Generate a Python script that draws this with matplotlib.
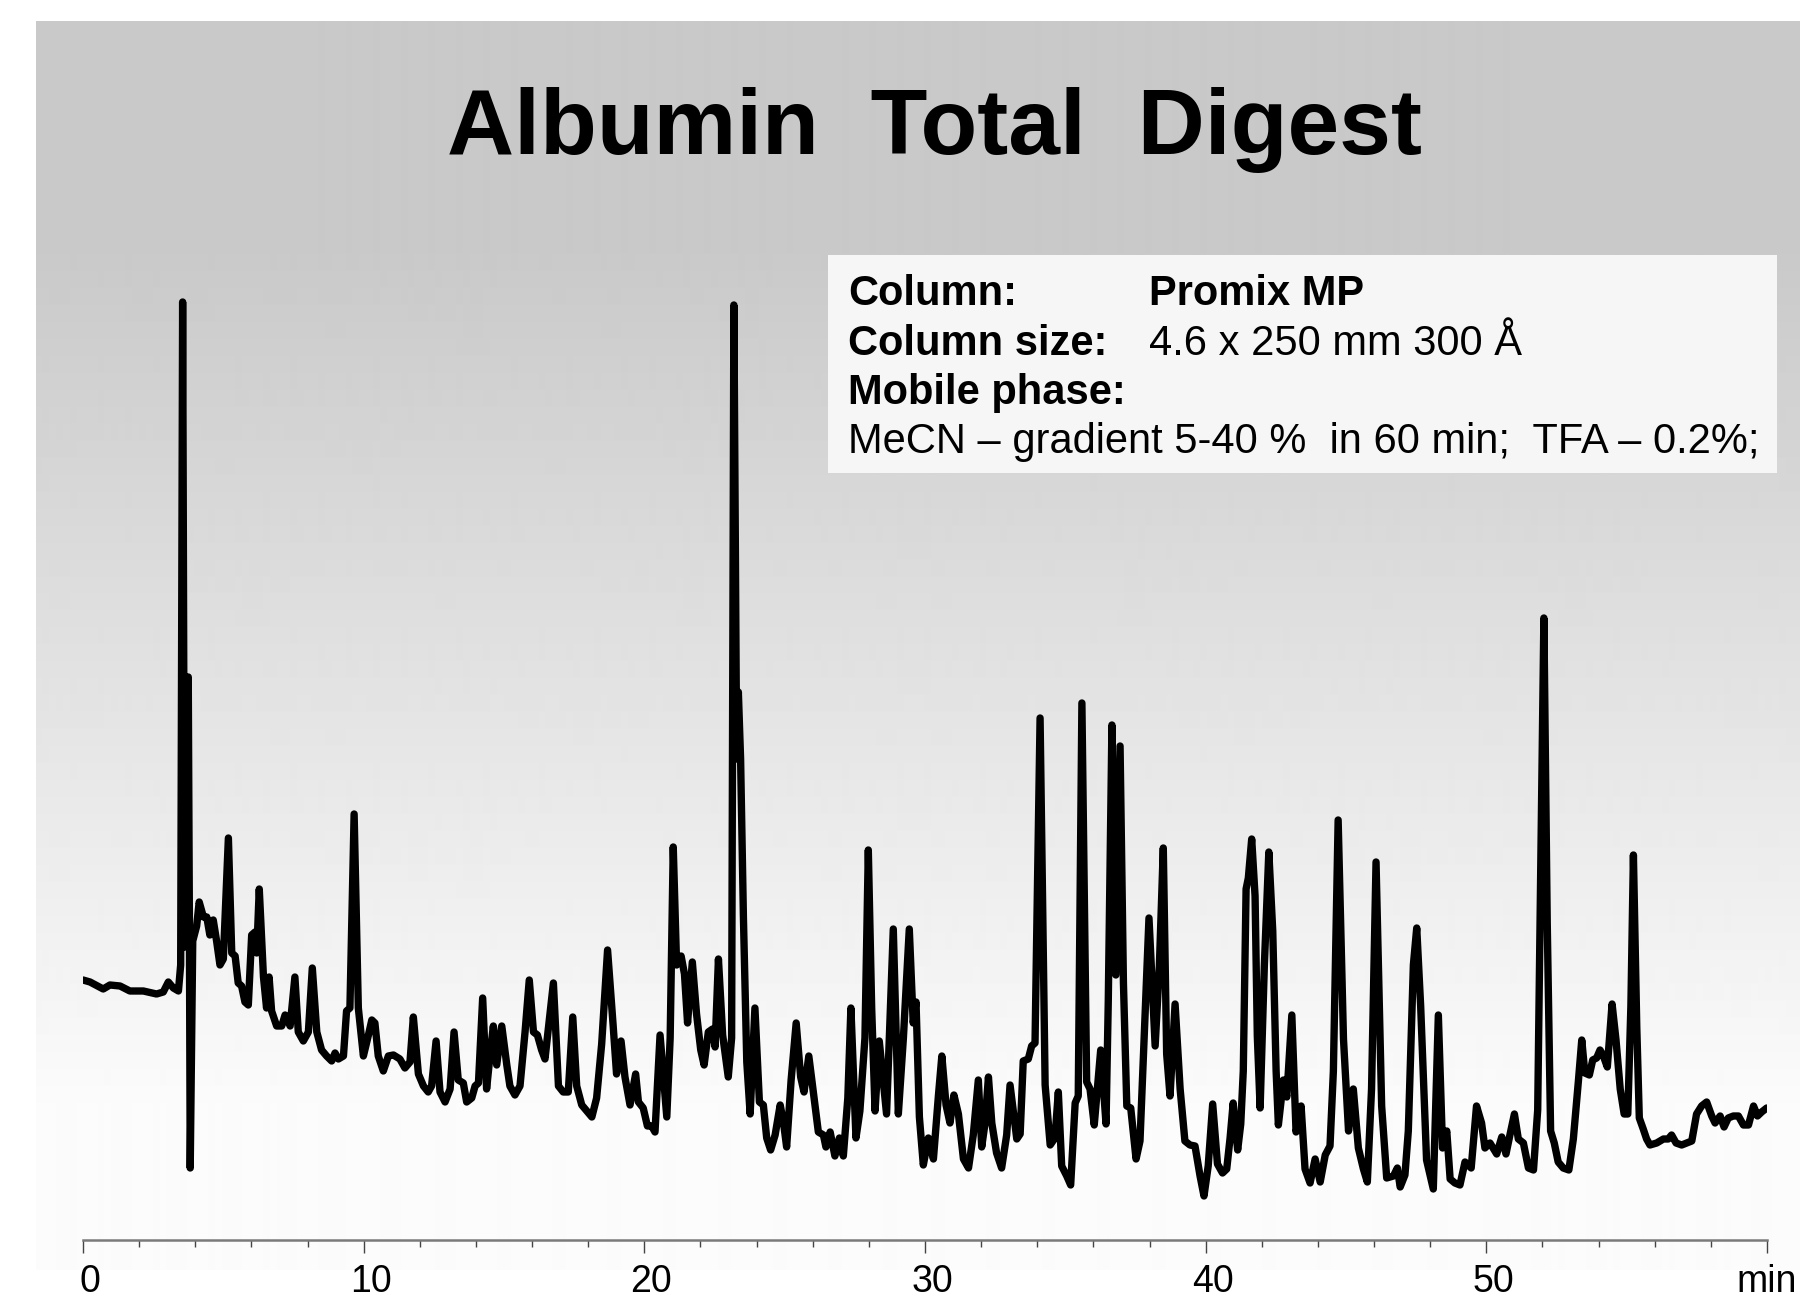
# Albumin total digest chromatogram (Promix MP column)
import numpy as np
import matplotlib.pyplot as plt
from matplotlib.patches import Rectangle
from matplotlib.transforms import ScaledTranslation

plt.rcParams['font.family'] = ['Liberation Sans', 'DejaVu Sans']

# retention time (min) and detector signal (arb. units)
time_early = [0.00, 0.25, 0.72, 0.96, 1.32, 1.67, 2.15, 2.62, 2.86, 3.04, 3.22, 3.40, 3.48, 3.55, 3.62,
              3.75, 3.79, 3.82, 3.91, 4.05, 4.14, 4.29, 4.41, 4.52, 4.64, 4.76, 4.88, 5.00, 5.18, 5.30,
              5.42, 5.53, 5.65, 5.77, 5.89, 6.01, 6.13, 6.19, 6.28, 6.43, 6.54, 6.63, 6.72, 6.90, 7.08,
              7.20, 7.38, 7.55, 7.67, 7.85, 8.03, 8.17, 8.33, 8.50, 8.68, 8.86, 8.98, 9.10, 9.28, 9.39,
              9.51, 9.66, 9.81, 9.99, 10.17, 10.29, 10.40, 10.52, 10.70, 10.88, 11.06, 11.29, 11.47,
              11.65, 11.77, 11.95, 12.13, 12.30, 12.42, 12.58, 12.72, 12.90, 13.08, 13.22, 13.37, 13.55,
              13.67, 13.85, 13.97, 14.09, 14.24, 14.38, 14.50, 14.62, 14.74, 14.92, 15.10, 15.21, 15.39,
              15.57, 15.75, 15.90, 16.05, 16.19, 16.34, 16.46]
signal_early = [26.0, 25.8, 25.1, 25.5, 25.4, 24.9, 24.9, 24.6, 24.8, 25.8, 25.2, 24.9, 27.5, 93.8, 29.3,
                56.3, 32.3, 7.2, 29.9, 31.4, 33.8, 32.3, 32.3, 30.5, 32.0, 29.9, 27.5, 28.1, 40.2, 28.7,
                28.4, 25.7, 25.4, 23.8, 23.5, 30.5, 30.8, 28.7, 35.1, 26.3, 23.2, 26.3, 22.9, 21.4, 21.4,
                22.5, 21.4, 26.3, 20.8, 19.9, 20.8, 27.2, 20.8, 19.0, 18.4, 17.9, 18.7, 18.1, 18.4, 22.9,
                23.2, 42.6, 23.2, 18.4, 20.5, 22.0, 21.7, 18.4, 16.9, 18.4, 18.5, 18.1, 17.2,
                17.8, 22.3, 16.6, 15.4, 14.8, 15.4, 19.9, 14.8, 13.8, 15.1, 20.8, 16.0, 15.7,
                13.8, 14.2, 15.4, 15.7, 24.2, 15.1, 18.4, 21.4, 17.5, 21.4, 17.5, 15.4, 14.5,
                15.4, 20.8, 26.0, 20.8, 20.5, 19.0, 18.1]

time_mid = [16.76, 16.94, 17.11, 17.29, 17.45, 17.59, 17.77, 17.95, 18.13, 18.30, 18.48, 18.69, 18.89,
            19.01, 19.17, 19.31, 19.49, 19.69, 19.79, 19.96, 20.11, 20.26, 20.38, 20.56, 20.80, 20.92,
            21.03, 21.15, 21.31, 21.43, 21.54, 21.71, 21.86, 22.01, 22.13, 22.28, 22.43, 22.52, 22.64,
            22.79, 22.99, 23.11, 23.19, 23.29, 23.35, 23.43, 23.53, 23.65, 23.77, 23.94, 24.10, 24.24,
            24.36, 24.50, 24.66, 24.84, 24.96, 25.07, 25.23, 25.41, 25.57, 25.69, 25.86, 26.02, 26.20,
            26.38, 26.47, 26.62, 26.79, 26.95, 27.09, 27.25, 27.36, 27.54, 27.68, 27.86, 27.98, 28.10,
            28.22, 28.37, 28.52, 28.63, 28.87, 29.05, 29.23, 29.44, 29.58, 29.68, 29.80, 29.94, 30.12,
            30.30, 30.48, 30.60, 30.75, 30.89, 31.03, 31.19, 31.37, 31.55, 31.72, 31.90, 32.02, 32.14,
            32.26, 32.38, 32.55, 32.73, 32.91]
signal_mid = [25.7, 15.4, 14.8, 14.8, 22.3, 15.4, 13.5, 12.9, 12.3, 14.2, 19.6, 29.0, 21.4,
              16.6, 19.9, 16.3, 13.5, 16.6, 13.8, 13.2, 11.4, 11.4, 10.8, 20.5, 12.3, 20.2,
              39.3, 27.5, 28.4, 26.6, 21.7, 27.8, 22.6, 19.0, 17.5, 20.8, 21.1, 19.3, 28.1,
              20.5, 16.3, 20.2, 93.5, 48.1, 54.8, 48.1, 32.3, 17.8, 12.6, 23.2, 13.8, 13.5,
              10.2, 9.0, 10.5, 13.5, 11.7, 9.3, 16.0, 21.7, 16.3, 14.8, 18.4, 14.8, 10.8,
              10.5, 9.3, 10.8, 8.4, 10.2, 8.4, 14.2, 23.2, 10.2, 12.9, 20.2, 39.0, 23.2,
              12.9, 19.9, 15.7, 12.6, 31.1, 12.6, 20.2, 31.1, 21.7, 23.8, 12.3, 7.5, 10.2,
              8.1, 14.5, 18.4, 13.5, 11.7, 14.5, 12.6, 8.1, 7.2, 10.5, 16.0, 9.3, 11.7,
              16.3, 11.7, 8.7, 7.2, 10.5]

time_late = [33.03, 33.27, 33.39, 33.50, 33.68, 33.80, 33.92, 34.10, 34.28, 34.46, 34.63, 34.75, 34.87,
             35.05, 35.19, 35.35, 35.46, 35.59, 35.76, 35.88, 36.03, 36.26, 36.45, 36.53, 36.66, 36.80,
             36.95, 37.07, 37.19, 37.33, 37.52, 37.66, 37.81, 37.98, 38.20, 38.35, 38.49, 38.61, 38.73,
             38.91, 39.09, 39.26, 39.44, 39.62, 39.80, 39.94, 40.09, 40.25, 40.42, 40.60, 40.75, 40.87,
             40.98, 41.14, 41.25, 41.34, 41.44, 41.52, 41.64, 41.76, 41.84, 41.94, 42.09, 42.25, 42.39,
             42.51, 42.59, 42.77, 42.89, 43.07, 43.22, 43.40, 43.54, 43.72, 43.90, 44.08, 44.26, 44.43,
             44.55, 44.72, 44.91, 45.09, 45.26, 45.44, 45.62, 45.76, 45.91, 46.07, 46.27, 46.45, 46.69,
             46.83, 46.93]
signal_late = [15.5, 10.1, 10.6, 17.9, 18.1, 19.4, 19.7, 52.2, 15.5, 9.5, 10.2, 14.8, 7.4,
               6.4, 5.5, 13.7, 14.4, 53.7, 15.8, 15.1, 11.5, 19.0, 11.6, 23.9, 51.5, 26.5,
               49.4, 25.7, 13.4, 13.2, 8.1, 9.9, 20.4, 32.2, 19.4, 27.4, 39.2, 18.6, 14.4,
               23.6, 15.1, 9.9, 9.5, 9.4, 6.4, 4.4, 7.4, 13.6, 7.6, 6.7, 7.1, 10.2,
               13.7, 9.0, 11.6, 16.9, 35.1, 36.2, 40.1, 34.4, 20.4, 13.2, 27.4, 38.8, 30.9,
               16.9, 11.5, 16.0, 14.3, 22.5, 10.8, 13.4, 7.1, 5.7, 8.1, 5.8, 8.5, 9.4,
               16.9, 42.0, 20.1, 10.9, 15.1, 9.2, 7.1, 5.8, 15.1, 37.8, 13.4, 6.2, 6.4,
               7.2, 5.3]

time_tail = [47.10, 47.22, 47.40, 47.52, 47.66, 47.87, 48.11, 48.29, 48.44, 48.59, 48.71, 48.88, 49.06,
             49.24, 49.46, 49.65, 49.83, 49.95, 50.13, 50.37, 50.55, 50.70, 50.84, 51.00, 51.14, 51.32,
             51.50, 51.68, 51.83, 51.95, 52.05, 52.17, 52.29, 52.42, 52.56, 52.74, 52.94, 53.10, 53.28,
             53.40, 53.51, 53.67, 53.79, 53.93, 54.05, 54.17, 54.31, 54.48, 54.62, 54.77, 54.91, 55.04,
             55.15, 55.24, 55.36, 55.45, 55.59, 55.71, 55.83, 56.07, 56.31, 56.48, 56.60, 56.76, 56.96,
             57.14, 57.32, 57.49, 57.67, 57.85, 58.03, 58.15, 58.33, 58.47, 58.62, 58.80, 58.98, 59.16,
             59.34, 59.52, 59.66, 59.81, 59.99]
signal_tail = [6.5, 10.9, 27.5, 31.2, 23.4, 8.0, 5.1, 22.5, 9.2, 10.9, 6.1, 5.7, 5.5,
               7.8, 7.2, 13.4, 11.7, 9.2, 9.7, 8.6, 10.3, 8.6, 10.5, 12.6, 10.1, 9.7,
               7.2, 7.0, 13.0, 40.0, 62.2, 31.7, 10.9, 9.7, 7.8, 7.2, 7.0, 10.1, 15.9,
               20.0, 16.7, 16.5, 18.0, 18.2, 19.0, 18.4, 17.3, 23.6, 20.0, 15.1, 12.6, 12.6,
               23.4, 38.5, 21.3, 12.2, 11.1, 10.1, 9.5, 9.7, 10.1, 10.1, 10.5, 9.7, 9.5,
               9.7, 9.9, 12.6, 13.4, 13.8, 12.4, 11.7, 12.4, 11.3, 12.2, 12.4, 12.4, 11.5,
               11.5, 13.4, 12.4, 12.8, 13.2]

tick_positions = [0, 10, 20, 30, 40, 50, 60]
tick_labels = ['0', '10', '20', '30', '40', '50', 'min']

title = 'Albumin  Total  Digest'
info_labels = ['Column:', 'Column size:', 'Mobile phase:']
info_values = ['Promix MP', '4.6 x 250 mm 300 Å', '']
gradient_note = 'MeCN – gradient 5-40 %  in 60 min;  TFA – 0.2%;'

time = time_early + time_mid + time_late + time_tail
signal = signal_early + signal_mid + signal_late + signal_tail

fig = plt.figure(figsize=(18, 13.08), dpi=100)

# grey panel, flat at the top and fading to white towards the axis
bg = fig.add_axes([0.02, 0.02905, 0.98, 0.95489])
rows = np.arange(21, 1270)
shade = np.clip(201 + (rows - 250) * 0.0587, 201, 252)
bg.imshow(shade[:, None], cmap='gray', vmin=0, vmax=255, aspect='auto',
          extent=[0, 1, 0, 1], interpolation='bilinear')
bg.axis('off')

fig.patches.append(Rectangle((0.46, 0.6384), 0.5272, 0.1667, transform=fig.transFigure,
                             facecolor='#f6f6f6', edgecolor='none', zorder=1))

ax = fig.add_axes([0.04611, 0.05199, 0.93556, 0.93196], zorder=2)
ax.set_facecolor('none')
ax.plot(time, signal, color='black', lw=5.3, solid_joinstyle='round', solid_capstyle='round')
ax.set_xlim(0, 60)
ax.set_ylim(0, 121.9)

for side in ['top', 'left', 'right']:
    ax.spines[side].set_visible(False)
ax.spines['bottom'].set_color('#7a7a7a')
ax.spines['bottom'].set_linewidth(1.8)
ax.set_yticks([])
ax.set_xticks(tick_positions)
ax.set_xticklabels(tick_labels)
ax.set_xticks(np.arange(0, 61, 2), minor=True)
ax.tick_params(axis='x', which='major', length=9, width=1.0, color='#444444',
               labelsize=27, pad=8)
ax.tick_params(axis='x', which='minor', length=5, width=1.0, color='#444444')

# numbers sit a little right of their ticks
shift = ScaledTranslation(7 / 100, 0, fig.dpi_scale_trans)
for lab in ax.get_xticklabels()[:-1]:
    lab.set_transform(lab.get_transform() + shift)

fig.text(0.5194, 0.8823, title, ha='center', va='baseline', fontsize=67, fontweight='bold')

baselines = [0.7668, 0.7286, 0.6911]
for y, lab, val in zip(baselines, info_labels, info_values):
    fig.text(0.4711, y, lab, fontsize=30, fontweight='bold', va='baseline')
    if val:
        weight = 'bold' if lab == 'Column:' else 'normal'
        fig.text(0.6383, y, val, fontsize=30, fontweight=weight, va='baseline')
fig.text(0.4711, 0.6537, gradient_note, fontsize=30, va='baseline')

fig.savefig('out.png', dpi=100)
